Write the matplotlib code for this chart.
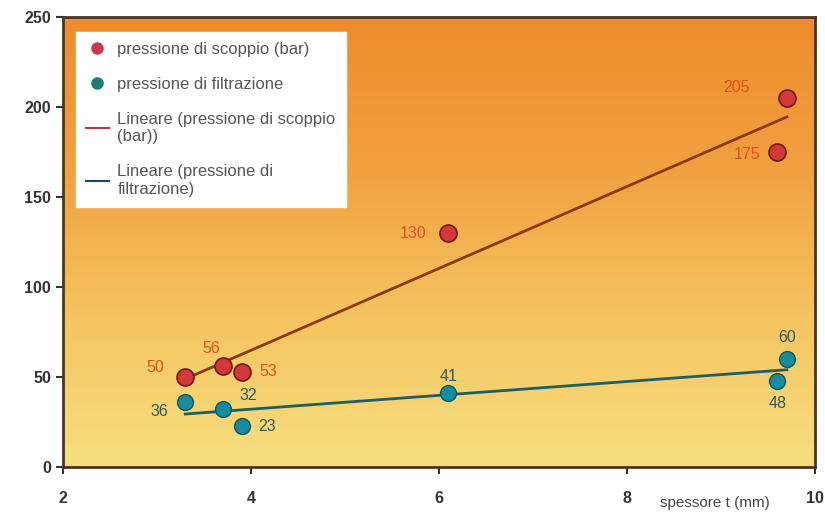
import matplotlib.pyplot as plt
import numpy as np
from matplotlib.colors import LinearSegmentedColormap
from matplotlib.lines import Line2D

# dati
spessore_scoppio = [3.3, 3.7, 3.9, 6.1, 9.6, 9.7]
pressione_scoppio = [50, 56, 53, 130, 175, 205]
spessore_filtr = [3.3, 3.7, 3.9, 6.1, 9.6, 9.7]
pressione_filtr = [36, 32, 23, 41, 48, 60]

# offset delle etichette (pixel, y verso l'alto)
off_scoppio = [(-30, 10), (-12, 18), (27, 0), (-35, 0), (-30, -2), (-50, 11)]
off_filtr = [(-26, -9), (25, 14), (25, -1), (0, 17), (0, -23), (0, 22)]

plt.rcParams['font.family'] = ['Liberation Sans', 'DejaVu Sans']

fig = plt.figure(figsize=(8.25, 5.18), dpi=100)
ax = fig.add_axes([0.0764, 0.0985, 0.9116, 0.8685])
ax.set_xlim(2, 10)
ax.set_ylim(0, 250)

# sfondo sfumato arancio -> giallo
cmap = LinearSegmentedColormap.from_list('bg', ['#f7df80', '#f5c460', '#f2a040', '#ef8c2c'])
grad = np.linspace(0, 1, 256).reshape(-1, 1)
ax.imshow(grad, aspect='auto', cmap=cmap, origin='lower',
          extent=[0, 1, 0, 1], transform=ax.transAxes, zorder=0)

# rette di regressione
for xs, ys, col in [(spessore_scoppio, pressione_scoppio, '#8a3a12'),
                    (spessore_filtr, pressione_filtr, '#1d5f66')]:
    a, b = np.polyfit(xs, ys, 1)
    xx = np.array([min(xs), max(xs)])
    ax.plot(xx, a * xx + b, color=col, lw=2, zorder=2)

ax.scatter(spessore_scoppio, pressione_scoppio, s=150, color='#d43838',
           edgecolors='#6e1a1a', linewidths=1.2, zorder=3)
ax.scatter(spessore_filtr, pressione_filtr, s=130, color='#178c9c',
           edgecolors='#0f5560', linewidths=1.0, zorder=3)

for x, y, o in zip(spessore_scoppio, pressione_scoppio, off_scoppio):
    ax.annotate(str(y), (x, y), xytext=(o[0] * 0.72, o[1] * 0.72),
                textcoords='offset points', ha='center', va='center',
                fontsize=11.5, color='#d9541e', zorder=4)
for x, y, o in zip(spessore_filtr, pressione_filtr, off_filtr):
    ax.annotate(str(y), (x, y), xytext=(o[0] * 0.72, o[1] * 0.72),
                textcoords='offset points', ha='center', va='center',
                fontsize=11.5, color='#2d5a5c', zorder=4)

# assi
for s in ax.spines.values():
    s.set_color('#4a3520')
    s.set_linewidth(2)
ax.set_xticks([2, 4, 6, 8, 10])
ax.set_yticks([0, 50, 100, 150, 200, 250])
ax.tick_params(direction='out', length=5, width=1.5, color='#333333',
               labelsize=11.5, labelcolor='#333333')
ax.tick_params(axis='x', pad=12)
for lab in ax.get_xticklabels() + ax.get_yticklabels():
    lab.set_fontweight('bold')

fig.text(0.866, 0.029, 'spessore t (mm)', fontsize=11, color='#444444',
         ha='center', va='center')

# legenda
handles = [
    Line2D([], [], ls='', marker='o', ms=8, color='#c8384f'),
    Line2D([], [], ls='', marker='o', ms=8, color='#1f7a78'),
    Line2D([], [], color='#b03a48', lw=1.5),
    Line2D([], [], color='#1d4a5a', lw=1.5),
]
labels = ['pressione di scoppio (bar)', 'pressione di filtrazione',
          'Lineare (pressione di scoppio\n(bar))', 'Lineare (pressione di\nfiltrazione)']
leg = ax.legend(handles, labels, loc='upper left', bbox_to_anchor=(0.017, 0.967),
                borderaxespad=0, fontsize=12, frameon=True, fancybox=False,
                labelspacing=1.2, handlelength=1.4, handletextpad=0.5,
                borderpad=0.6, labelcolor='#555555')
leg.get_frame().set_facecolor('white')
leg.get_frame().set_edgecolor('white')
leg.get_frame().set_alpha(1)

fig.savefig('out.png', dpi=100)
